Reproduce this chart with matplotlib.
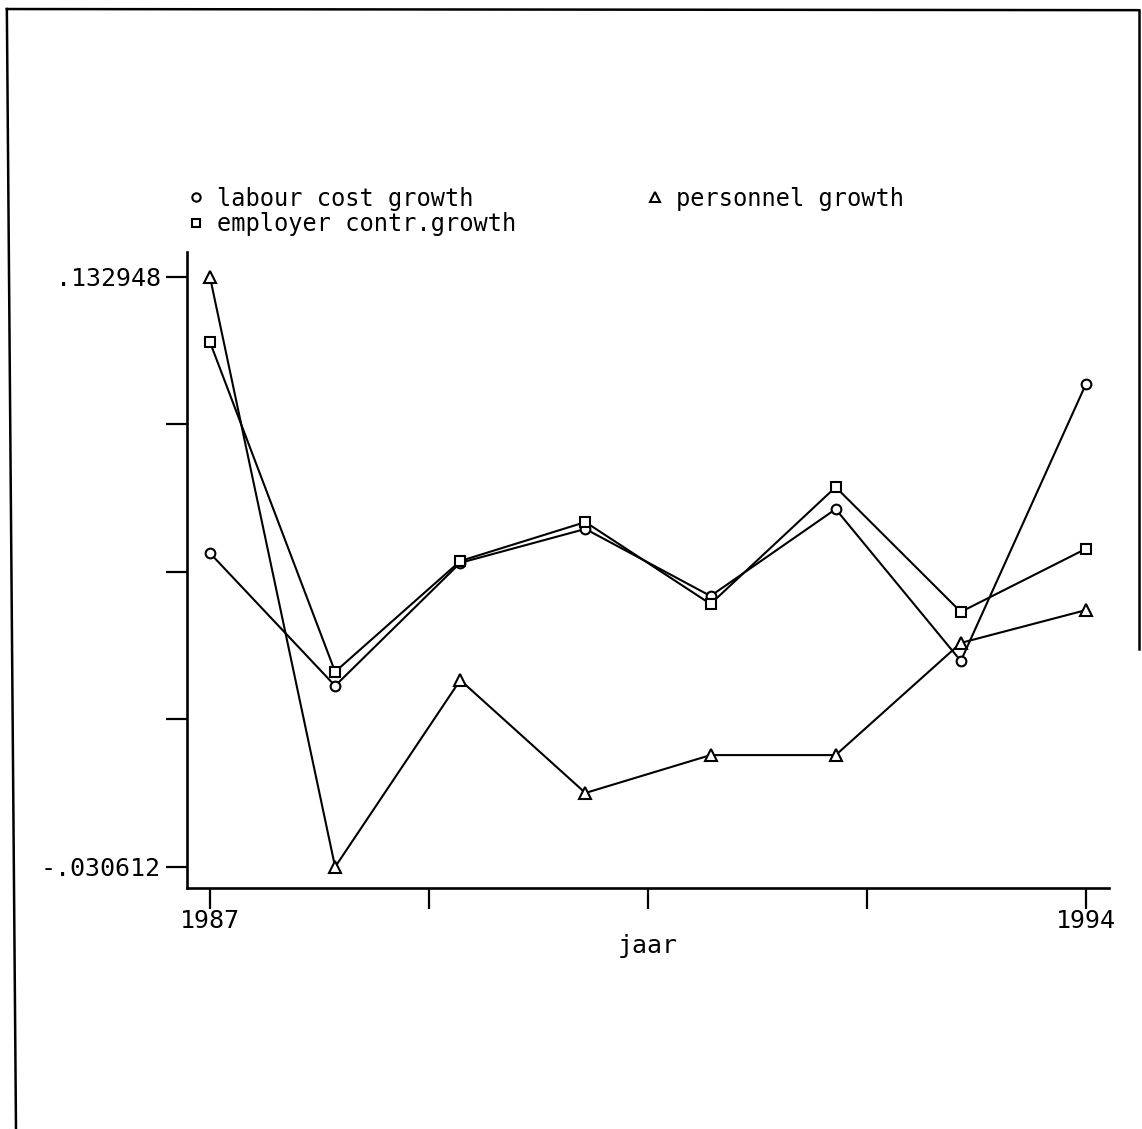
import matplotlib
matplotlib.use("Agg")
import matplotlib.pyplot as plt
from matplotlib.lines import Line2D

years = [1987, 1988, 1989, 1990, 1991, 1992, 1993, 1994]
labour_cost_growth = [0.0564, 0.0196, 0.0537, 0.0631, 0.0445, 0.0686, 0.0265, 0.1033]
employer_contr_growth = [0.1149, 0.0235, 0.0542, 0.0650, 0.0423, 0.0747, 0.0401, 0.0576]
personnel_growth = [0.132948, -0.030612, 0.0212, -0.0101, 0.0004, 0.0004, 0.0315, 0.0406]

y_ticks = [0.132948, 0.09206, 0.05117, 0.01028, -0.030612]
y_ticklabels = [".132948", "", "", "", "-.030612"]
x_ticks = [1987, 1988.75, 1990.5, 1992.25, 1994]
x_ticklabels = ["1987", "", "", "", "1994"]

font = "DejaVu Sans Mono"
fig = plt.figure(figsize=(11.42, 11.29), dpi=100)
ax = fig.add_axes([0.1637, 0.2135, 0.8074, 0.5633])

lw = 1.5
ms = 7
ax.plot(years, labour_cost_growth, color="black", lw=lw, marker="o", ms=ms,
        mfc="white", mec="black", mew=1.5, label="labour cost growth")
ax.plot(years, employer_contr_growth, color="black", lw=lw, marker="s", ms=ms,
        mfc="white", mec="black", mew=1.5, label="employer contr.growth")
ax.plot(years, personnel_growth, color="black", lw=lw, marker="^", ms=ms + 1,
        mfc="white", mec="black", mew=1.5, label="personnel growth")

ax.set_xlim(1986.816, 1994.184)
ax.set_ylim(-0.036434, 0.139879)
ax.set_yticks(y_ticks)
ax.set_yticklabels(y_ticklabels, fontsize=18, family=font)
ax.set_xticks(x_ticks)
ax.set_xticklabels(x_ticklabels, fontsize=18, family=font)
ax.tick_params(axis="y", direction="out", length=15, width=1.6, color="black", pad=4)
ax.tick_params(axis="x", direction="out", length=15, width=1.6, color="black", pad=0)
ax.set_xlabel("jaar", fontsize=18, family=font, labelpad=1)

for s in ["top", "right"]:
    ax.spines[s].set_visible(False)
for s in ["left", "bottom"]:
    ax.spines[s].set_linewidth(1.9)

handles = [
    Line2D([], [], ls="none", marker="o", ms=6, mfc="white", mec="black", mew=1.5),
    Line2D([], [], ls="none", marker="s", ms=6, mfc="white", mec="black", mew=1.5),
    Line2D([], [], ls="none", marker="^", ms=7, mfc="white", mec="black", mew=1.5),
]
labels = ["labour cost growth", "employer contr.growth", "personnel growth"]
fig.legend(handles, labels, loc="upper left", bbox_to_anchor=(0.155, 0.843), ncol=2,
           frameon=False, prop={"family": font, "size": 17}, handlelength=0.8,
           handletextpad=0.5, columnspacing=5.45, labelspacing=0.05, borderaxespad=0)

# page border
fig.add_artist(Line2D([0.006, 0.997], [0.992, 0.991], transform=fig.transFigure, color="black", lw=1.8))
fig.add_artist(Line2D([0.006, 0.014], [0.992, 0.0], transform=fig.transFigure, color="black", lw=1.8))
fig.add_artist(Line2D([0.997, 0.997], [0.991, 0.425], transform=fig.transFigure, color="black", lw=1.8))

fig.savefig("out.png", dpi=100, facecolor="white")
